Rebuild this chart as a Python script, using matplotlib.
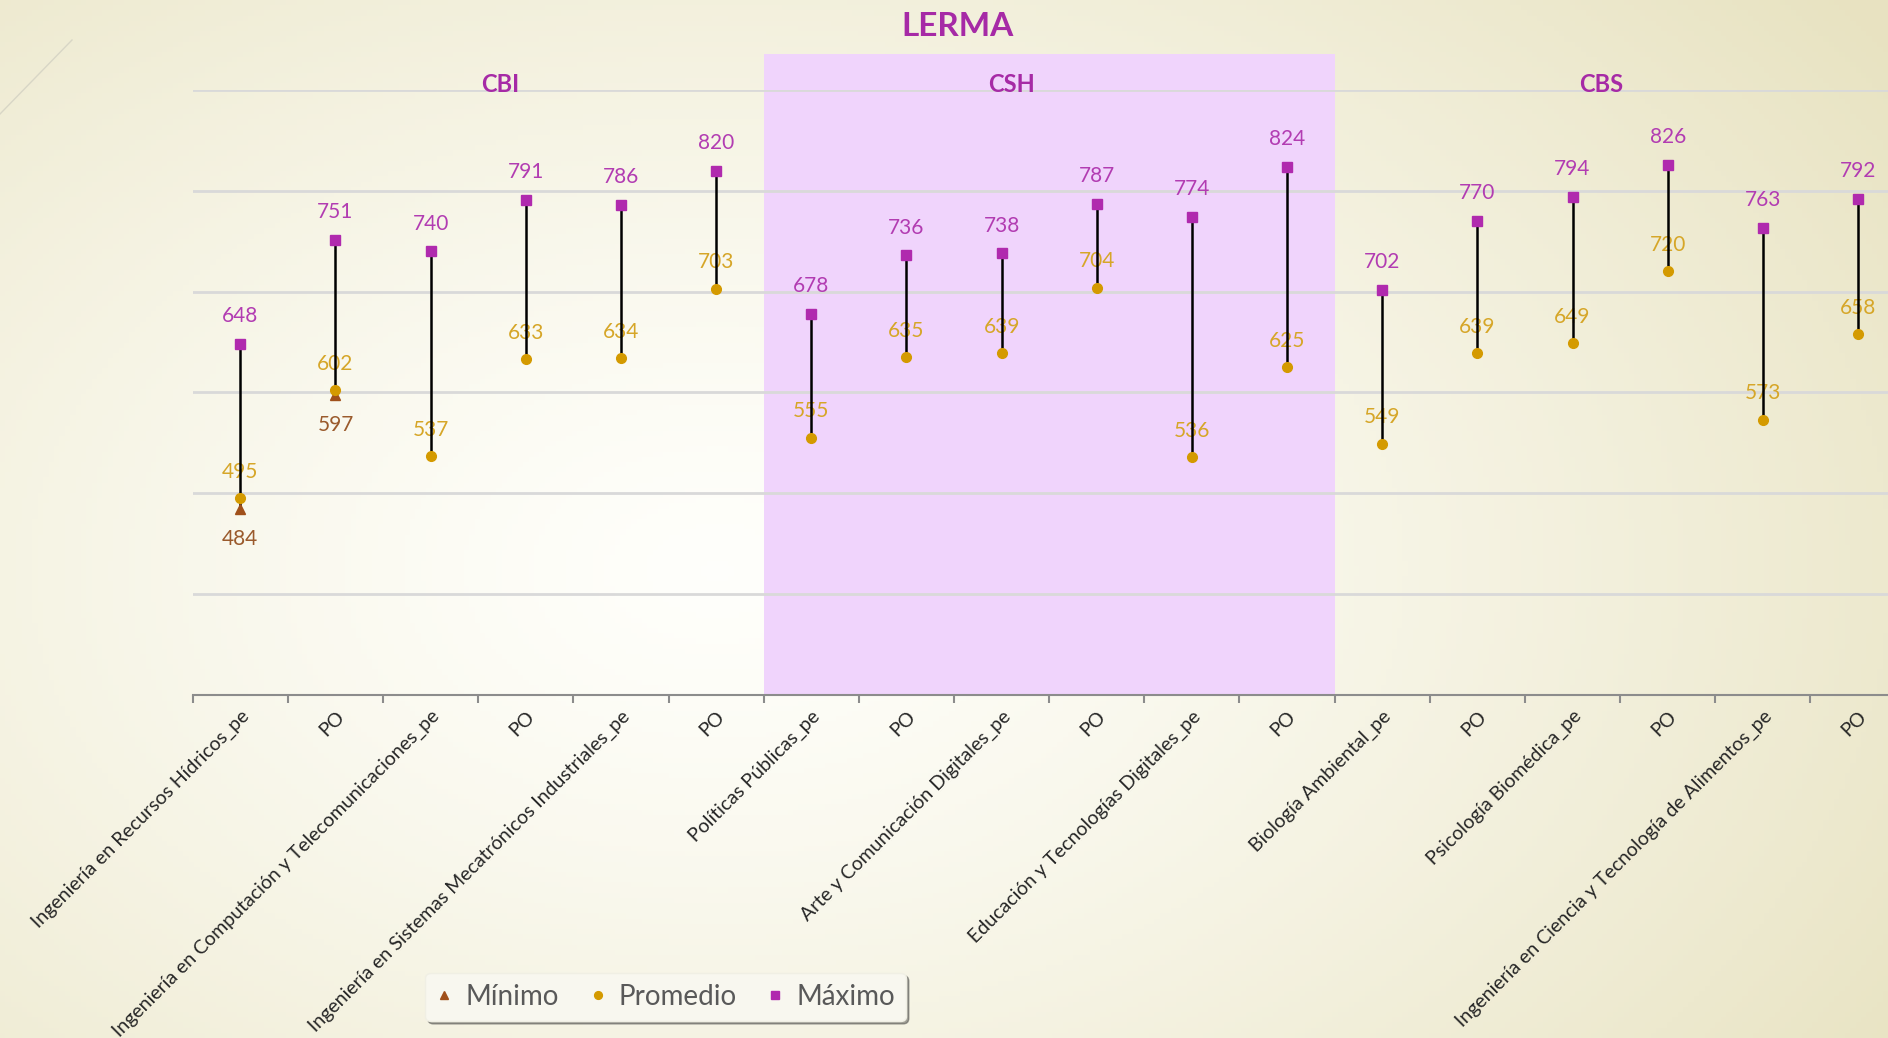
import numpy as np
import matplotlib.pyplot as plt
from matplotlib.patches import Rectangle
from matplotlib.lines import Line2D

plt.rcParams['font.family'] = ['Lato', 'DejaVu Sans']

# datos
categorias = [
    "Ingeniería en Recursos Hídricos_pe", "PO",
    "Ingeniería en Computación y Telecomunicaciones_pe", "PO",
    "Ingeniería en Sistemas Mecatrónicos Industriales_pe", "PO",
    "Políticas Públicas_pe", "PO",
    "Arte y Comunicación Digitales_pe", "PO",
    "Educación y Tecnologías Digitales_pe", "PO",
    "Biología Ambiental_pe", "PO",
    "Psicología Biomédica_pe", "PO",
    "Ingeniería en Ciencia y Tecnología de Alimentos_pe", "PO",
]
maximo = [648, 751, 740, 791, 786, 820, 678, 736, 738, 787, 774, 824, 702, 770, 794, 826, 763, 792]
promedio = [495, 602, 537, 633, 634, 703, 555, 635, 639, 704, 536, 625, 549, 639, 649, 720, 573, 658]
minimo = [484, 597] + [np.nan] * 16
divisiones = ["CBI", "CSH", "CBS"]
pos_divisiones = [2.73, 8.1, 14.3]

c_max = "#B02AAE"
c_prom = "#D49A00"
c_min = "#A0501A"
c_max_txt = "#B23CB2"
c_prom_txt = "#D6A628"
c_min_txt = "#9A5A2C"

W, H = 1888, 1038
fig = plt.figure(figsize=(W / 100, H / 100), dpi=100)

# fondo degradado
bg = fig.add_axes([0, 0, 1, 1], zorder=-10)
yy, xx = np.mgrid[0:1:200j, 0:1:350j]
d = np.sqrt(((xx - 0.38) / 0.75) ** 2 + ((yy - 0.55) / 0.9) ** 2)
t = np.clip(d, 0, 1) ** 1.3
c0 = np.array([1.0, 1.0, 0.985])
c1 = np.array([0.91, 0.89, 0.76])
img = c0[None, None, :] * (1 - t[..., None]) + c1[None, None, :] * t[..., None]
bg.imshow(img, extent=[0, 1, 0, 1], aspect='auto', origin='upper')
bg.axis('off')
fig.add_artist(Line2D([0, 72 / W], [1 - 114 / H, 1 - 40 / H], color="#D8D6C6", lw=1))

ax = fig.add_axes([0.1021, 0.3305, 0.9072, 0.5828])
ax.patch.set_alpha(0)
x = np.arange(len(categorias))
ax.set_xlim(-0.5, len(categorias) - 0.5)
ax.set_ylim(300, 900)

# franja CSH
ax.add_patch(Rectangle((5.5, 300), 6, 636, facecolor="#F0D4FC", edgecolor="none",
                       zorder=0, clip_on=False))

for yv in range(400, 901, 100):
    ax.axhline(yv, color="#D9D9D9", lw=2, zorder=1)

for i in range(len(categorias)):
    low = np.nanmin([promedio[i], minimo[i]])
    ax.plot([x[i], x[i]], [low, maximo[i]], color="black", lw=1.8, zorder=3)

ax.plot(x, minimo, ls="none", marker="^", color=c_min, ms=7, zorder=4, label="Mínimo")
ax.plot(x, promedio, ls="none", marker="o", color=c_prom, ms=7, zorder=4, label="Promedio")
ax.plot(x, maximo, ls="none", marker="s", color=c_max, ms=7, zorder=4, label="Máximo")

for i in range(len(categorias)):
    ax.annotate(str(maximo[i]), (x[i], maximo[i]), xytext=(0, 20), textcoords="offset points",
                ha="center", va="center", fontsize=15, color=c_max_txt, zorder=2)
    ax.annotate(str(promedio[i]), (x[i], promedio[i]), xytext=(0, 19), textcoords="offset points",
                ha="center", va="center", fontsize=15, color=c_prom_txt, zorder=2)
    if not np.isnan(minimo[i]):
        ax.annotate(str(int(minimo[i])), (x[i], minimo[i]), xytext=(0, -21), textcoords="offset points",
                    ha="center", va="center", fontsize=15, color=c_min_txt, zorder=2)

for nombre, px in zip(divisiones, pos_divisiones):
    ax.text(px, 905, nombre, ha="center", va="center", fontsize=17, fontweight="bold",
            color="#A62AA6", zorder=5)

ax.set_xticks(x)
ax.set_xticklabels(categorias, rotation=45, ha="right", rotation_mode="anchor", fontsize=14,
                   color="#262626")
ax.tick_params(axis="x", which="major", length=0, pad=9)
ax.set_xticks(np.arange(-0.5, len(categorias), 1), minor=True)
ax.tick_params(axis="x", which="minor", length=6, width=1.5, color="#8C8C8C")
ax.set_yticks([])
for s in ["top", "right", "left"]:
    ax.spines[s].set_visible(False)
ax.spines["bottom"].set_color("#8C8C8C")
ax.spines["bottom"].set_linewidth(1.5)

fig.text(0.507, 0.974, "LERMA", ha="center", va="center", fontsize=24, fontweight="bold",
         color="#A62AA6")

leg = fig.legend(loc="center", bbox_to_anchor=(0.3525, 0.0395), ncol=3, fontsize=20,
                 frameon=True, shadow=True, handlelength=0.6, handletextpad=0.45,
                 columnspacing=1.1, markerscale=0.8, borderpad=0.4)
leg.get_frame().set_facecolor("#F8F7EF")
leg.get_frame().set_edgecolor("#F0EFE4")
for txt in leg.get_texts():
    txt.set_color("#595959")

fig.savefig("out.png", dpi=100)
